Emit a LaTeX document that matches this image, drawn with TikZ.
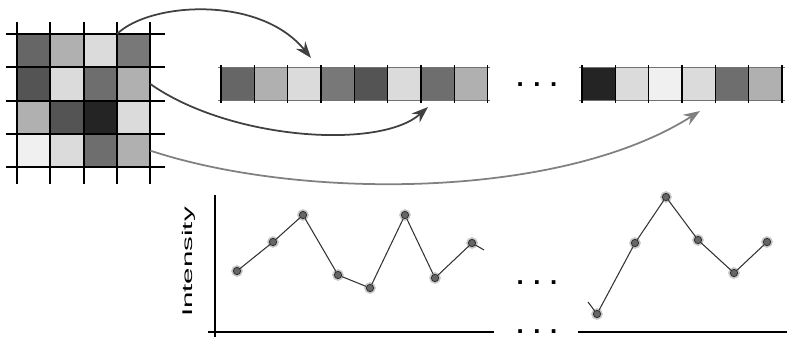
\documentclass[tikz,border=0pt]{standalone}
\usepackage{fontspec}
\setmainfont{Liberation Sans}
\usetikzlibrary{arrows.meta}

\tikzset{
  cell/.style={minimum size=1cm, inner sep=0pt, outer sep=0pt},
  pt/.style={circle, fill=black!60, draw=black!85, line width=0.6pt, minimum size=0.22cm,
    inner sep=0pt, preaction={draw=black!22, line width=3.5pt}},
  arr/.style={line width=1.5pt, -{Stealth[length=0.5cm, width=0.36cm, inset=0.17cm]}},
  dots/.style={anchor=base, inner sep=0pt, font=\fontsize{22}{22}\selectfont\bfseries},
}

\begin{document}
\begin{tikzpicture}[x=0.03cm, y=-0.03cm]
   \useasboundingbox (0,0) rectangle (787,337);
   % image patch
   \foreach \r/\row in {1/{60,31,14,53}, 2/{67,14,57,31}, 3/{31,67,86,14}, 4/{6,14,57,31}}
    \foreach \s [count=\c] in \row
     \node[cell, fill=black!\s] (g-\r-\c) at ({17+33.33*\c-16.67},{34+33.33*\r-16.67}) {};
   \foreach \x in {17,50.3,83.7,117,150.3}
    \draw[line width=1.7pt] (\x,22) -- (\x,184);
   \foreach \y in {34,67.3,100.7,134,167.3}
    \draw[line width=1.7pt] (6,\y) -- (165,\y);
   % vectors
   \foreach \s [count=\i] in {60,31,14,53,67,14,57,31}
    \node[cell, fill=black!\s] (a-\i) at ({221+33.33*\i-16.67},84) {};
   \foreach \s [count=\i] in {86,14,6,14,57,31}
    \node[cell, fill=black!\s] (b-\i) at ({582+33.33*\i-16.67},84) {};
   \draw[black!55, line width=1pt] (218,67.3) -- (490,67.3) (218,100.7) -- (490,100.7);
   \draw[black!55, line width=1pt] (579,67.3) -- (785,67.3) (579,100.7) -- (785,100.7);
   \foreach \i in {0,...,8}
    \draw[line width=1pt] ({221+33.33*\i},65) -- ({221+33.33*\i},103);
   \foreach \i in {0,...,6}
    \draw[line width=1pt] ({582+33.33*\i},65) -- ({582+33.33*\i},103);
   \node[dots] (dots-a) at (537,86) {. . .};
   % mapping
   \coordinate (t1) at (311,58);
   \coordinate (t2) at (428,107);
   \coordinate (t3) at (700,111);
   \draw[arr, black!75] (g-1-3.north east) .. controls (150,2) and (260,-5) .. (t1);
   \draw[arr, black!75] (g-2-4.east) .. controls (230,140) and (380,150) .. (t2);
   \draw[arr, black!50] (g-4-4.east) .. controls (300,200) and (560,200) .. (t3);
   % profiles
   \draw[line width=1.2pt] (215,195) -- (215,337);
   \draw[line width=1.2pt] (208,332) -- (494,332);
   \draw[line width=1.2pt] (578,332) -- (787,332);
   \node[rotate=90, font=\fontsize{12}{12}\selectfont] (ylab) at (189,262) {\scalebox{2.1}[1]{Intensity}};
   \foreach \x/\y [count=\i] in {237/271, 273/242, 303/215, 338/275, 370/288, 405/215, 435/278, 472/243}
    \node[pt] (p-\i) at (\x,\y) {};
   \coordinate (p-end) at (484,250);
   \draw[black!80, line width=0.9pt] (p-1) -- (p-2) -- (p-3) -- (p-4) -- (p-5) -- (p-6) -- (p-7) -- (p-8) -- (p-end);
   \foreach \x/\y [count=\i] in {597/314, 635/243, 666/197, 698/240, 734/273, 767/242}
    \node[pt] (q-\i) at (\x,\y) {};
   \coordinate (q-start) at (588,302);
   \draw[black!80, line width=0.9pt] (q-start) -- (q-1) -- (q-2) -- (q-3) -- (q-4) -- (q-5) -- (q-6);
   \node[dots] (dots-b) at (537,284.5) {. . .};
   \node[dots] (dots-c) at (537,333) {. . .};
\end{tikzpicture}
\end{document}
